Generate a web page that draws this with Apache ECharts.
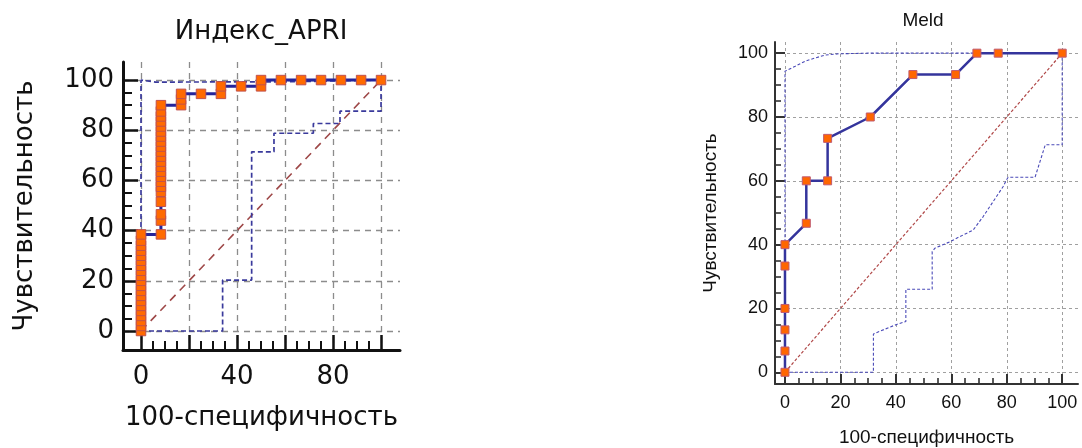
<!DOCTYPE html>
<html><head><meta charset="utf-8">
<script src="https://cdn.jsdelivr.net/npm/echarts@6/dist/echarts.min.js"></script>
<style>html,body{margin:0;padding:0;background:#fff}#c{width:1082px;height:448px}</style>
</head><body><div id="c"></div>
<script>
// ---- tick / label values ----
const majorTicks = [0, 20, 40, 60, 80, 100];
const minorTicks = [5, 10, 15, 25, 30, 35, 45, 50, 55, 65, 70, 75, 85, 90, 95];
const apriXLabels = [0, 40, 80];
const apriYLabels = [0, 20, 40, 60, 80, 100];
const meldXLabels = [0, 20, 40, 60, 80, 100];
const meldYLabels = [0, 20, 40, 60, 80, 100];

// ---- Индекс_APRI ----
const apriRoc = [
  [0,0],[0,2],[0,4],[0,6],[0,8],[0,10],[0,12],[0,14],[0,16],[0,18],[0,20],[0,22],[0,24],[0,26],[0,28],[0,30],[0,32],[0,34],[0,36],[0,38.5],
  [8.3,38.5],[8.3,44],[8.3,46.5],[8.3,51.5],[8.3,55.5],[8.3,57.5],[8.3,59.5],[8.3,61.5],[8.3,63.5],[8.3,65.5],[8.3,67.5],[8.3,69.5],[8.3,71.5],
  [8.3,73.5],[8.3,75.5],[8.3,77.5],[8.3,79.5],[8.3,81.5],[8.3,83.5],[8.3,85.5],[8.3,87.5],[8.3,90],
  [16.7,90],[16.7,92.3],[16.7,94.5],[25,94.5],[33.3,94.5],[33.3,97.5],[41.7,97.5],[50,97.5],[50,100],
  [58.3,100],[66.7,100],[75,100],[83.3,100],[91.7,100],[100,100]
];
const apriUpper = [[0,0],[0,100],[6,99.2],[60,99.3],[100,100]];
const apriLower = [[0,0],[34,0],[34,20.3],[46.1,20.3],[46.1,71.4],[55.4,71.4],[55.4,78.8],[71.8,78.8],[71.8,82.7],[82.9,82.7],[82.9,87.6],[100,87.6],[100,100]];
const diagonal = [[0,0],[100,100]];

// ---- Meld ----
const meldRoc = [[0,0],[0,6.67],[0,13.3],[0,20],[0,33.3],[0,40],[7.69,46.7],[7.69,60],[15.38,60],[15.38,73.3],[30.77,80],[46.15,93.3],[61.54,93.3],[69.23,100],[76.92,100],[100,100]];
const meldUpper = [[0,0],[0,94.3],[1.3,94.9],[3.7,95.9],[7.3,97.5],[10.9,98.5],[14.5,99.4],[19.4,99.8],[30,100],[100,100]];
const meldLower = [[0,0],[31.9,0],[31.9,12],[34.3,12.9],[40.3,15],[43.6,15.9],[43.6,26],[53.1,26],[53.1,37.8],[54.1,38.9],[59.5,40.9],[61.9,42],[67.9,44.6],[71.5,48.8],[75.1,53.5],[78.7,58.2],[79.9,60.3],[80.5,61.1],[90.2,61.1],[93.9,71.3],[100,71.3],[100,100]];

const xName = '100-специфичность';
const yName = 'Чувствительность';

const SL = {font:'DejaVu Sans', size:26, nameSize:26, line:3, lineColor:'#111', majorLen:15, minorLen:9, tickW:2.5,
  split:{color:'#8c8c8c', type:[6,5], width:1.3}};
const SR = {font:'Liberation Sans', size:18, nameSize:19, line:2, lineColor:'#333', majorLen:10, minorLen:6, tickW:2,
  split:{color:'#a0a0a0', type:[3,3], width:1}};

function makeAxes(dim, gridIndex, min, max, S, labels, name, nameGap, labelMargin) {
  const pos = dim === 'x' ? 'bottom' : 'left';
  return [{
    type:'value', gridIndex, min, max, position:pos,
    name, nameLocation:'middle', nameGap,
    nameTextStyle:{fontFamily:S.font, fontSize:S.nameSize, color:'#111'},
    axisLine:{show:true, onZero:false, lineStyle:{color:S.lineColor, width:S.line}},
    axisTick:{show:true, inside:true, length:S.majorLen, customValues:majorTicks, lineStyle:{color:S.lineColor, width:S.tickW}},
    axisLabel:{show:true, customValues:labels, margin:labelMargin, fontFamily:S.font, fontSize:S.size, color:'#111'},
    splitLine:{show:true, lineStyle:S.split},
    minorTick:{show:false}, minorSplitLine:{show:false}
  },{
    type:'value', gridIndex, min, max, position:pos,
    axisLine:{show:false, onZero:false},
    axisTick:{show:true, inside:true, length:S.minorLen, customValues:minorTicks, lineStyle:{color:S.lineColor, width:S.tickW*0.8}},
    axisLabel:{show:false}, splitLine:{show:false}
  }];
}

function lineSeries(data, xi, color, width, dash, extra) {
  return Object.assign({
    type:'line', data, xAxisIndex:xi, yAxisIndex:xi, showSymbol:false, symbol:'none', silent:true,
    animation:false, lineStyle:{color, width, type:dash}, emphasis:{disabled:true}
  }, extra || {});
}

const chart = echarts.init(document.getElementById('c'), null, {renderer:'canvas'});
chart.setOption({
  animation:false,
  backgroundColor:'#fff',
  title:[
    {text:'Индекс_APRI', left:256, top:14, textAlign:'center',
     textStyle:{fontFamily:'DejaVu Sans', fontSize:26, fontWeight:'normal', color:'#111'}},
    {text:'Meld', left:918, top:6, textAlign:'center',
     textStyle:{fontFamily:'Liberation Sans', fontSize:19, fontWeight:'normal', color:'#111'}}
  ],
  grid:[
    {left:123, top:62, width:277, height:288, outerBoundsMode:'none', containLabel:false},
    {left:775, top:42, width:303, height:342, outerBoundsMode:'none', containLabel:false}
  ],
  xAxis:[].concat(
    makeAxes('x', 0, -7.5, 107.9, SL, apriXLabels, xName, 55, 14),
    makeAxes('x', 1, -3.6, 105.7, SR, meldXLabels, xName, 44, 10)
  ),
  yAxis:[].concat(
    makeAxes('y', 0, -7.57, 107.2, SL, apriYLabels, yName, 85, 9),
    makeAxes('y', 1, -3.67, 103.5, SR, meldYLabels, yName, 55, 7)
  ),
  series:[
    lineSeries(diagonal, 0, '#9e4848', 1.6, [8,6]),
    lineSeries(apriLower, 0, '#3a3a9c', 1.7, [5,3]),
    lineSeries(apriUpper, 0, '#3a3a9c', 1.7, [5,3]),
    lineSeries(apriRoc, 0, '#24249a', 3, 'solid', {
      showSymbol:true, symbol:'rect', symbolSize:9.5,
      itemStyle:{color:'#ff6a00', borderColor:'#c0504d', borderWidth:1}
    }),
    lineSeries(diagonal, 2, '#b04848', 1.2, [3,2]),
    lineSeries(meldLower, 2, '#4a4ab8', 1.1, [3,2]),
    lineSeries(meldUpper, 2, '#4a4ab8', 1.1, [3,2]),
    lineSeries(meldRoc, 2, '#34349c', 2.5, 'solid', {
      showSymbol:true, symbol:'rect', symbolSize:8,
      itemStyle:{color:'#ff6600', borderColor:'#c05a70', borderWidth:1}
    })
  ]
});
</script></body></html>
